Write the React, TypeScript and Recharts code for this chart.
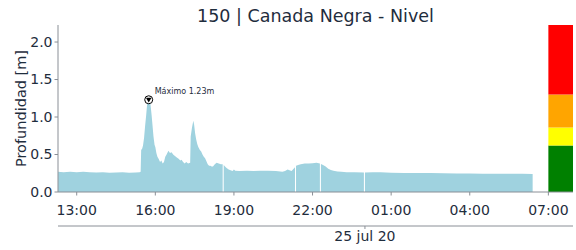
import { AreaChart, Area, XAxis, YAxis, ReferenceArea, ReferenceDot } from "recharts";

// hours since 00:00 of 24 jul (values > 24 are 25 jul)
const hours = [
  12.29, 12.5, 12.75, 13.0, 13.25, 13.5, 13.75, 14.0, 14.25, 14.5, 14.75, 15.0, 15.25, 15.4, 15.44,
  15.46, 15.5, 15.53, 15.57, 15.61, 15.65, 15.69, 15.72, 15.748, 15.78, 15.8, 15.83, 15.86, 15.9, 15.93,
  15.97, 16.0, 16.04, 16.08, 16.13, 16.18, 16.23, 16.28, 16.33, 16.38, 16.43, 16.5, 16.56, 16.62, 16.68,
  16.75, 16.82, 16.9, 16.95, 17.0, 17.06, 17.12, 17.18, 17.25, 17.33, 17.35, 17.4, 17.45, 17.48, 17.52,
  17.56, 17.6, 17.64, 17.7, 17.75, 17.8, 17.85, 17.9, 17.95, 18.0, 18.05, 18.1, 18.15, 18.2, 18.27,
  18.34, 18.42, 18.5, 18.57, 18.59, 18.61, 18.66, 18.72, 18.8, 18.87, 18.95, 19.0, 19.05, 19.2, 19.5,
  19.75, 20.0, 20.3, 20.6, 20.85, 20.95, 21.05, 21.12, 21.2, 21.33, 21.35, 21.37, 21.45, 21.55, 21.7,
  21.85, 22.0, 22.15, 22.28, 22.3, 22.32, 22.4, 22.5, 22.6, 22.7, 22.8, 22.95, 23.1, 23.3, 23.6,
  23.96, 23.98, 24.0, 24.3, 24.6, 25.0, 25.5, 26.0, 26.5, 27.0, 27.5, 28.0, 28.5, 29.0, 29.5,
  30.0, 30.4,
];

const depth = [
  0.27, 0.265, 0.27, 0.265, 0.27, 0.262, 0.26, 0.262, 0.258, 0.26, 0.262, 0.258, 0.26, 0.262, 0.27,
  0.56, 0.58, 0.62, 0.72, 0.88, 1.02, 1.18, 1.21, 1.23, 1.17, 1.21, 1.12, 1.02, 0.86, 0.74,
  0.63, 0.6, 0.52, 0.47, 0.44, 0.4, 0.42, 0.38, 0.4, 0.47, 0.5, 0.55, 0.52, 0.53, 0.5,
  0.48, 0.46, 0.44, 0.42, 0.43, 0.4, 0.38, 0.4, 0.38, 0.39, 0.74, 0.86, 0.95, 0.9, 0.78,
  0.7, 0.64, 0.6, 0.56, 0.54, 0.5, 0.47, 0.45, 0.41, 0.37, 0.35, 0.35, 0.34, 0.34, 0.37,
  0.39, 0.38, 0.37, 0.37, null, 0.36, 0.34, 0.32, 0.3, 0.29, 0.28, 0.3, 0.285, 0.28, 0.285,
  0.28, 0.285, 0.285, 0.28, 0.27, 0.28, 0.3, 0.29, 0.28, 0.33, null, 0.35, 0.36, 0.37, 0.38,
  0.38, 0.385, 0.39, 0.38, null, 0.375, 0.36, 0.34, 0.31, 0.295, 0.285, 0.275, 0.27, 0.265, 0.262,
  0.26, null, 0.26, 0.265, 0.262, 0.258, 0.255, 0.255, 0.252, 0.25, 0.248, 0.248, 0.245, 0.245, 0.243,
  0.243, 0.24,
];

const xTicks = [13, 16, 19, 22, 25, 28, 31];
const yTicks = [0, 0.5, 1, 1.5, 2];
const dateTicks = [24];
const dateLabel = "25 jul 20";

// alert level bands drawn at the right edge
const levelLimits = [0, 0.62, 0.86, 1.3, 2.227];
const levelColors = ["#008000", "#ffff00", "#ffa500", "#ff0000"];

const peakTime = 15.748;
const peakValue = 1.23;

const xDomain = [12.286, 31.94];
const yDomain = [0, 2.227];

const data = hours.map((t, i) => ({ t, v: depth[i] }));

const font = "DejaVu Sans";
const textColor = "#1f2d3d";
const axisColor = "#8a8f96";

const fmtHour = (h: number) => String(Math.round(h) % 24).padStart(2, "0") + ":00";

const PeakMarker = (props: any) => {
  const { cx, cy } = props;
  return (
    <g>
      <circle cx={cx} cy={cy} r={4} fill="#fff" stroke="#000" strokeWidth={1} />
      <path d={`M${cx - 2.8},${cy - 2} L${cx + 2.8},${cy - 2} L${cx},${cy + 2.8} Z`} fill="#000" />
      <text x={cx + 6} y={cy - 6} fontSize={8} fontFamily={font} fill={textColor}>
        {`Máximo ${peakValue.toFixed(2)}m`}
      </text>
    </g>
  );
};

export default function App() {
  return (
    <div style={{ position: "fixed", left: 0, top: 0, width: 576, height: 250, background: "#fff" }}>
      <AreaChart
        width={576}
        height={250}
        data={data}
        margin={{ top: 25, right: 3, left: 0, bottom: 0 }}
      >
        <XAxis
          xAxisId={0}
          dataKey="t"
          type="number"
          domain={xDomain}
          ticks={xTicks}
          tickFormatter={fmtHour}
          height={34}
          tickSize={3.5}
          tickMargin={10}
          stroke={axisColor}
          tick={{ fill: textColor, fontSize: 14, fontFamily: font }}
          allowDataOverflow
        />
        <XAxis
          xAxisId={1}
          dataKey="t"
          type="number"
          domain={xDomain}
          ticks={dateTicks}
          tickFormatter={() => dateLabel}
          height={24}
          tickSize={3}
          tickMargin={2}
          stroke={axisColor}
          tick={{ fill: textColor, fontSize: 14, fontFamily: font }}
          allowDataOverflow
        />
        <YAxis
          domain={yDomain}
          ticks={yTicks}
          tickFormatter={(v: number) => v.toFixed(1)}
          width={58}
          tickSize={3.5}
          tickMargin={2}
          stroke={axisColor}
          tick={{ fill: textColor, fontSize: 14, fontFamily: font }}
          allowDataOverflow
        />
        <Area
          xAxisId={0}
          type="linear"
          dataKey="v"
          stroke="none"
          fill="#9fd2df"
          fillOpacity={1}
          isAnimationActive={false}
          connectNulls={false}
          dot={false}
          activeDot={false}
        />
        {levelColors.map((c, i) => (
          <ReferenceArea
            key={`lvl-${i}`}
            xAxisId={0}
            x1={31}
            x2={xDomain[1]}
            y1={levelLimits[i]}
            y2={levelLimits[i + 1]}
            fill={c}
            fillOpacity={1}
            stroke="none"
          />
        ))}
        <ReferenceDot xAxisId={0} x={peakTime} y={peakValue} shape={PeakMarker} />
      </AreaChart>
      <svg
        width={576}
        height={250}
        style={{ position: "absolute", left: 0, top: 0, pointerEvents: "none" }}
      >
        <text x={315.5} y={21.5} textAnchor="middle" fontSize={17.5} fontFamily={font} fill={textColor}>
          150 | Canada Negra - Nivel
        </text>
        <text
          x={26}
          y={108.5}
          textAnchor="middle"
          fontSize={14.5}
          fontFamily={font}
          fill={textColor}
          transform="rotate(-90 26 108.5)"
        >
          Profundidad [m]
        </text>
      </svg>
    </div>
  );
}
